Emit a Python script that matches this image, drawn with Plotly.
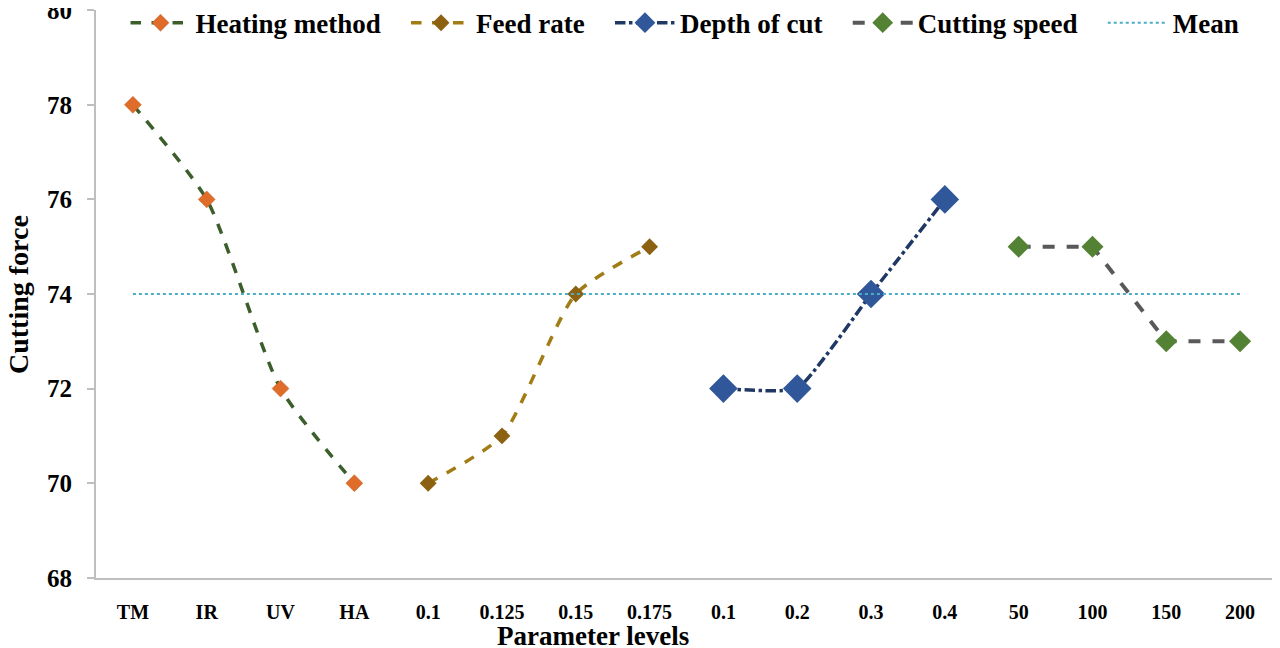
import plotly.graph_objects as go

tick_labels = ["TM", "IR", "UV", "HA", "0.1", "0.125", "0.15", "0.175",
               "0.1", "0.2", "0.3", "0.4", "50", "100", "150", "200"]
heating_x = [0, 1, 2, 3]
heating_y = [78, 76, 72, 70]
feed_x = [4, 5, 6, 7]
feed_y = [70, 71, 74, 75]
depth_x = [8, 9, 10, 11]
depth_y = [72, 72, 74, 76]
speed_x = [12, 13, 14, 15]
speed_y = [75, 75, 73, 73]
mean_x = list(range(16))
mean_y = [74] * 16
y_ticks = [68, 70, 72, 74, 76, 78, 80]

FONT = "Liberation Serif"
PAD = "&nbsp;&nbsp;&nbsp;"

fig = go.Figure()
fig.add_trace(go.Scatter(x=heating_x, y=heating_y, name="<b>Heating method</b>" + PAD,
                         mode="lines+markers", line=dict(color="#3B5E2B", width=3.5, dash="dash", shape="spline", smoothing=0.6),
                         marker=dict(symbol="diamond", size=13, color="#E06C2A", line=dict(color="#C05A20", width=0.5))))
fig.add_trace(go.Scatter(x=feed_x, y=feed_y, name="<b>Feed rate</b>" + PAD,
                         mode="lines+markers", line=dict(color="#A27C14", width=3.5, dash="dash", shape="spline", smoothing=0.6),
                         marker=dict(symbol="diamond", size=13, color="#8C6212")))
fig.add_trace(go.Scatter(x=depth_x, y=depth_y, name="<b>Depth of cut</b>" + PAD,
                         mode="lines+markers", line=dict(color="#1F3864", width=3.5, dash="dashdot", shape="spline", smoothing=0.4),
                         marker=dict(symbol="diamond", size=22, color="#2F579A")))
fig.add_trace(go.Scatter(x=speed_x, y=speed_y, name="<b>Cutting speed</b>" + PAD,
                         mode="lines+markers", line=dict(color="#595959", width=4, dash="dash"),
                         marker=dict(symbol="diamond", size=17, color="#548235")))
fig.add_trace(go.Scatter(x=mean_x, y=mean_y, name="<b>Mean</b>",
                         mode="lines", line=dict(color="#4BACC6", width=2, dash="dot")))

fig.update_layout(
    width=1280, height=648,
    margin=dict(l=88, r=11, t=2, b=78, autoexpand=False),
    paper_bgcolor="white", plot_bgcolor="white",
    font=dict(family=FONT, color="black"),
    showlegend=True,
    legend=dict(orientation="h", x=0.025, y=1.02, xanchor="left", yanchor="top",
                font=dict(family=FONT, size=27, color="black"),
                bgcolor="rgba(255,255,255,0)", itemwidth=60, tracegroupgap=0),
    xaxis=dict(range=[-0.5, 15.5], tickvals=mean_x, ticktext=["<b>%s</b>" % t for t in tick_labels],
               tickfont=dict(family=FONT, size=20, color="black"), automargin=False,
               showgrid=False, zeroline=False, showline=True, linecolor="#BFBFBF", linewidth=2,
               ticks="", ticklabelstandoff=15),
    yaxis=dict(range=[67.995, 80.005], tickvals=y_ticks, automargin=False,
               ticktext=["<b>%d</b>" % v for v in y_ticks], ticklabeloverflow="allow",
               tickfont=dict(family=FONT, size=25, color="black"),
               showgrid=False, zeroline=False, showline=True, linecolor="#BFBFBF", linewidth=2,
               ticks="outside", ticklen=7, tickcolor="#BFBFBF", tickwidth=2, ticklabelstandoff=10),
)
fig.add_annotation(text="<b>Parameter levels</b>", xref="paper", yref="paper", x=(593 - 96) / 1181, y=0,
                   yshift=-58, showarrow=False, xanchor="center", yanchor="middle",
                   font=dict(family=FONT, size=27, color="black"))
fig.add_annotation(text="<b>Cutting force</b>", xref="paper", yref="paper", x=0, y=(578 - 295) / 568,
                   xshift=-78, textangle=-90, showarrow=False, xanchor="center", yanchor="middle",
                   font=dict(family=FONT, size=28, color="black"))

fig.write_html("out.html")
